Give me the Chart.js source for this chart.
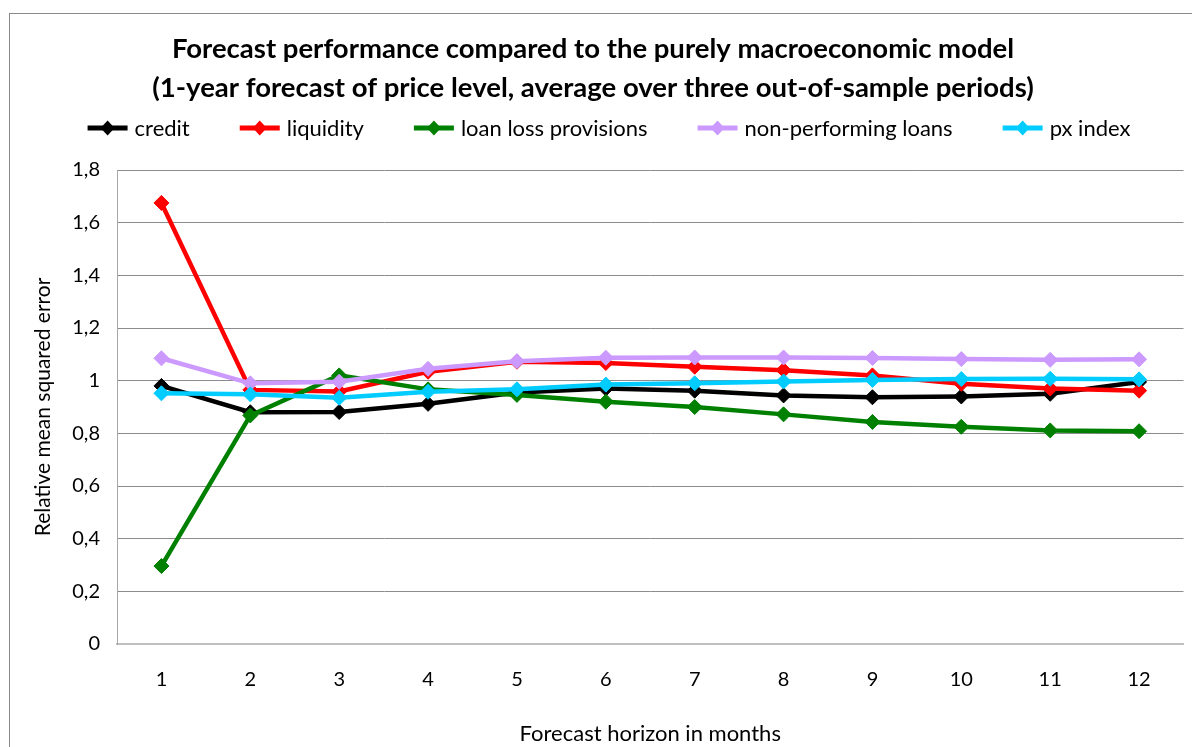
<!DOCTYPE html>
<html>
<head>
<meta charset="utf-8">
<title>Forecast performance</title>
<script src="https://cdn.jsdelivr.net/npm/chart.js@4.4.1/dist/chart.umd.min.js"></script>
<style>
  html, body { margin: 0; padding: 0; background: #fff; }
  #box { width: 1192px; height: 747px; position: relative; }
</style>
</head>
<body>
<div id="box"><canvas id="myChart"></canvas></div>
<script>
// forecast horizon (months) on the x axis
const horizons = ['1', '2', '3', '4', '5', '6', '7', '8', '9', '10', '11', '12'];

// relative mean squared error per model
const credit     = [0.980, 0.880, 0.881, 0.912, 0.955, 0.970, 0.962, 0.944, 0.937, 0.940, 0.950, 0.995];
const liquidity  = [1.675, 0.965, 0.959, 1.034, 1.072, 1.067, 1.053, 1.040, 1.020, 0.988, 0.970, 0.962];
const loanLoss   = [0.296, 0.868, 1.020, 0.967, 0.946, 0.920, 0.900, 0.872, 0.843, 0.825, 0.811, 0.808];
const nonPerf    = [1.085, 0.990, 0.996, 1.045, 1.074, 1.087, 1.088, 1.088, 1.086, 1.082, 1.079, 1.081];
const pxIndex    = [0.952, 0.948, 0.935, 0.958, 0.967, 0.985, 0.990, 0.997, 1.003, 1.006, 1.007, 1.005];

const yTickLabels = ['0', '0,2', '0,4', '0,6', '0,8', '1', '1,2', '1,4', '1,6', '1,8'];

const titleLines = [
  'Forecast performance compared to the purely macroeconomic model',
  '(1-year forecast of price level, average over three out-of-sample periods)'
];

const FONT = 'Lato, "Open Sans", sans-serif';
const ctx = document.querySelector('#myChart');

const series = (label, data, color, order) => ({
  label: label,
  data: data,
  borderColor: color,
  backgroundColor: color,
  pointBackgroundColor: color,
  pointBorderColor: color,
  borderWidth: 4.5,
  pointStyle: 'rectRot',
  pointRadius: 7.5,
  pointBorderWidth: 1,
  tension: 0,
  order: order
});

// outer frame of the chart object
const frame = {
  id: 'frame',
  beforeDraw(chart) {
    const g = chart.ctx;
    g.save();
    g.fillStyle = '#fff';
    g.fillRect(0, 0, chart.width, chart.height);
    g.strokeStyle = '#8a8a8a';
    g.lineWidth = 1;
    g.strokeRect(9.5, 13.5, chart.width + 20, chart.height + 20);
    g.restore();
  }
};

// one-row legend under the title: line + diamond, then the label
const legendRow = {
  id: 'legendRow',
  afterDraw(chart) {
    const g = chart.ctx;
    const sets = chart.data.datasets;
    const y = 128;
    const gap = 50;
    g.save();
    g.font = '22px ' + FONT;
    g.textBaseline = 'middle';
    g.textAlign = 'left';
    const widths = sets.map(ds => g.measureText(ds.label).width);
    const total = widths.reduce((a, w) => a + 47 + w, 0) + gap * (sets.length - 1);
    let x = 609 - total / 2;
    sets.forEach((ds, i) => {
      g.fillStyle = ds.borderColor;
      g.fillRect(x, y - 2.5, 40, 5);
      g.beginPath();
      g.moveTo(x + 20, y - 7.5);
      g.lineTo(x + 27, y);
      g.lineTo(x + 20, y + 7.5);
      g.lineTo(x + 13, y);
      g.closePath();
      g.fill();
      g.fillStyle = '#000';
      g.fillText(ds.label, x + 47, y + 1);
      x += 47 + widths[i] + gap;
    });
    g.restore();
  }
};

new Chart(ctx, {
  type: 'line',
  data: {
    labels: horizons,
    datasets: [
      series('credit', credit, '#000000', 4),
      series('liquidity', liquidity, '#ff0000', 3),
      series('loan loss provisions', loanLoss, '#008000', 2),
      series('non-performing loans', nonPerf, '#cc99ff', 1),
      series('px index', pxIndex, '#00ccff', 0)
    ]
  },
  plugins: [frame, legendRow],
  options: {
    responsive: true,
    maintainAspectRatio: false,
    animation: false,
    layout: { padding: { left: 0, right: 6, top: 0, bottom: 0 } },
    plugins: {
      title: {
        display: true,
        text: titleLines,
        color: '#000',
        font: { family: FONT, size: 27.5, weight: 'bold', lineHeight: 1.4 },
        padding: { top: 30, bottom: 63 }
      },
      legend: { display: false },
      tooltip: { enabled: false }
    },
    scales: {
      x: {
        offset: true,
        grid: { display: false, drawTicks: false },
        border: { color: '#bfbfbf', width: 2 },
        ticks: { color: '#000', padding: 24, font: { family: FONT, size: 20 } },
        title: {
          display: true,
          text: 'Forecast horizon in months',
          color: '#000',
          font: { family: FONT, size: 22 },
          padding: { top: 0, bottom: 0 }
        },
        afterFit: (scale) => { scale.height = 103; }
      },
      y: {
        min: 0,
        max: 1.8,
        grid: {
          drawTicks: false,
          color: (c) => (c.index === 0 ? 'rgba(0,0,0,0)' : '#8c8c8c')
        },
        border: { color: '#a6a6a6' },
        ticks: {
          stepSize: 0.2,
          padding: 17,
          color: '#000',
          font: { family: FONT, size: 20 },
          callback: (v, i) => yTickLabels[i]
        },
        title: {
          display: true,
          text: 'Relative mean squared error',
          color: '#000',
          font: { family: FONT, size: 21 },
          padding: { top: 31, bottom: 0 }
        },
        afterFit: (scale) => { scale.width = 117; }
      }
    }
  }
});
</script>
</body>
</html>
